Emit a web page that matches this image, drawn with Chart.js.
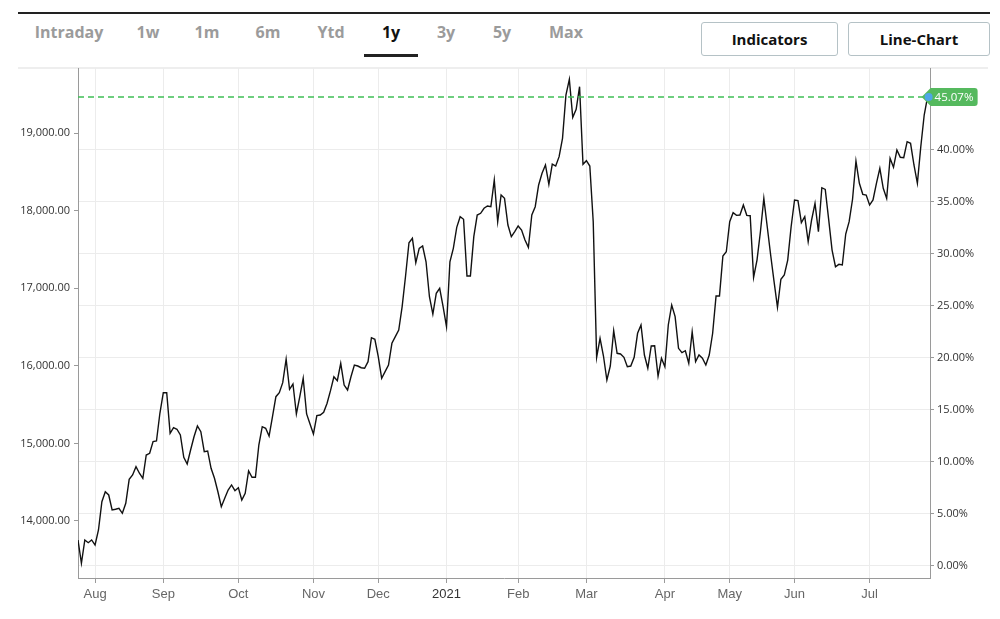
<!DOCTYPE html>
<html>
<head>
<meta charset="utf-8">
<script src="https://cdn.jsdelivr.net/npm/chart.js@4.4.0/dist/chart.umd.min.js"></script>
<style>
  body { margin: 0; background: #fff; }
  #wrap { position: relative; width: 1000px; height: 619px; overflow: hidden; }
  #priceChart { position: absolute; left: 0; top: 0; }
  .topline { position: absolute; left: 18px; top: 12px; width: 972px; height: 2px; background: #222; }
  .sep { position: absolute; left: 18px; top: 67px; width: 970px; height: 2px; background: #eeeeee; }
  .tab { position: absolute; top: 21px; font: 700 16px "Open Sans", sans-serif; color: #9b9b9b; transform: translateX(-50%); white-space: nowrap; }
  .tab.on { color: #111; }
  .uline { position: absolute; left: 364px; top: 54px; width: 54px; height: 3px; background: #222; }
  .btn { position: absolute; top: 22px; height: 34px; box-sizing: border-box; border: 1px solid #b5c2c6; border-radius: 3px;
         font: 700 15px "Open Sans", sans-serif; color: #111; text-align: center; line-height: 32px; }
</style>
</head>
<body>
<div id="wrap">
  <div class="topline"></div>
  <div class="tab" style="left:69px">Intraday</div>
  <div class="tab" style="left:148px">1w</div>
  <div class="tab" style="left:207px">1m</div>
  <div class="tab" style="left:268px">6m</div>
  <div class="tab" style="left:331px">Ytd</div>
  <div class="tab on" style="left:391px">1y</div>
  <div class="tab" style="left:446px">3y</div>
  <div class="tab" style="left:502px">5y</div>
  <div class="tab" style="left:566px">Max</div>
  <div class="uline"></div>
  <div class="btn" style="left:701px;width:137px">Indicators</div>
  <div class="btn" style="left:848px;width:142px">Line-Chart</div>
  <div class="sep"></div>
  <canvas id="priceChart" width="1000" height="619"></canvas>
</div>
<script>
// month ticks (position = trading day index)
const monthLabels = ["Aug", "Sep", "Oct", "Nov", "Dec", "2021", "Feb", "Mar", "Apr", "May", "Jun", "Jul"]
const monthIdx = [5, 25, 47, 69, 88, 108, 129, 149, 172, 191, 210, 232]

// daily closes
const prices = [
  13755, 13455, 13755, 13720, 13755, 13690, 13884, 14249, 14377, 14335,
  14142, 14151, 14164, 14099, 14228, 14537, 14593, 14700, 14615, 14550,
  14850, 14872, 15022, 15031, 15388, 15653, 15653, 15130, 15202, 15182,
  15108, 14821, 14734, 14915, 15086, 15224, 15151, 14893, 14902, 14679,
  14550, 14377, 14184, 14292, 14399, 14464, 14390, 14429, 14270, 14357,
  14644, 14563, 14563, 14979, 15215, 15194, 15095, 15344, 15602, 15653,
  15782, 16084, 15697, 15765, 15379, 15602, 15839, 15379, 15250, 15121,
  15357, 15366, 15401, 15517, 15679, 15859, 15808, 16032, 15752, 15688,
  15859, 16010, 15997, 15975, 15968, 16053, 16362, 16341, 16117, 15839,
  15924, 16010, 16290, 16375, 16461, 16762, 17157, 17586, 17643, 17329,
  17514, 17544, 17341, 16890, 16667, 16934, 16999, 16762, 16504, 17341,
  17514, 17785, 17921, 17888, 17157, 17157, 17664, 17943, 17965, 18030,
  18059, 18050, 18394, 17857, 18201, 18158, 17814, 17664, 17728, 17802,
  17750, 17621, 17527, 17943, 18050, 18330, 18481, 18588, 18339, 18600,
  18575, 18695, 18932, 19490, 19692, 19202, 19305, 19597, 18597, 18643,
  18575, 17857, 16109, 16354, 16126, 15817, 15997, 16452, 16161, 16152,
  16109, 15988, 15997, 16109, 16419, 16526, 16139, 15968, 16255, 16259,
  15868, 16097, 15988, 16526, 16783, 16633, 16225, 16169, 16194, 16032,
  16439, 16053, 16139, 16097, 16010, 16139, 16419, 16899, 16899, 17415,
  17470, 17857, 17973, 17939, 17943, 18072, 17939, 17934, 17140, 17363,
  17728, 18158, 17792, 17428, 17084, 16754, 17115, 17170, 17363, 17792,
  18137, 18128, 17844, 17921, 17599, 17879, 18094, 17728, 18295, 18274,
  17888, 17492, 17277, 17308, 17299, 17698, 17857, 18146, 18639, 18352,
  18210, 18201, 18072, 18137, 18352, 18545, 18287, 18158, 18674, 18558,
  18781, 18687, 18682, 18888, 18867, 18588, 18352, 18823, 19232, 19468
]

const priceTicks = [14000, 15000, 16000, 17000, 18000, 19000]
const pctTicks = [0, 5, 10, 15, 20, 25, 30, 35, 40]
const basePrice = 13420
const priceMin = 13265
const priceMax = 19838

const toPct = (p) => (p / basePrice - 1) * 100

const lastLabel = {
    id: "lastLabel",
    afterDatasetsDraw(chart) {
        const { ctx, chartArea, scales } = chart
        const i = prices.length - 1
        const x = scales.x.getPixelForValue(i)
        const y = Math.round(scales.y.getPixelForValue(prices[i]))
        ctx.save()
        // dashed level line
        ctx.strokeStyle = "#3fbf55"
        ctx.lineWidth = 1.3
        ctx.setLineDash([6, 4])
        ctx.beginPath()
        ctx.moveTo(chartArea.left, y)
        ctx.lineTo(x, y)
        ctx.stroke()
        ctx.setLineDash([])
        // green tag
        const x0 = x - 6, x1 = x + 3, x2 = x + 50, h = 9, r = 3
        ctx.fillStyle = "#55b95e"
        ctx.beginPath()
        ctx.moveTo(x0, y)
        ctx.lineTo(x1, y - h)
        ctx.lineTo(x2 - r, y - h)
        ctx.quadraticCurveTo(x2, y - h, x2, y - h + r)
        ctx.lineTo(x2, y + h - r)
        ctx.quadraticCurveTo(x2, y + h, x2 - r, y + h)
        ctx.lineTo(x1, y + h)
        ctx.closePath()
        ctx.fill()
        ctx.fillStyle = "#fff"
        ctx.font = "11.5px 'Open Sans'"
        ctx.textBaseline = "middle"
        ctx.fillText(toPct(prices[i]).toFixed(2) + "%", x + 7, y + 0.5)
        // end dot
        ctx.fillStyle = "#4ea6e6"
        ctx.beginPath()
        ctx.arc(x + 1, y, 4, 0, Math.PI * 2)
        ctx.fill()
        ctx.restore()
    }
}

const ctx = document.getElementById("priceChart").getContext("2d")
let myChart = new Chart(ctx, {
    type: "line",
    data: {
        datasets: [{
            data: prices.map((v, i) => ({ x: i, y: v })),
            borderColor: "#111",
            borderWidth: 1.4,
            pointRadius: 0,
            tension: 0,
            yAxisID: "y"
        }]
    },
    options: {
        responsive: false,
        animation: false,
        layout: { padding: { top: 68, left: 0, right: 0, bottom: 0 } },
        plugins: { legend: { display: false }, tooltip: { enabled: false } },
        scales: {
            x: {
                type: "linear",
                min: 0,
                max: 249.7,
                afterBuildTicks: (s) => { s.ticks = monthIdx.map((v) => ({ value: v })) },
                afterFit: (s) => { s.height = 41 },
                grid: { color: "#ececec", tickColor: "#9a9a9a", tickLength: 5 },
                border: { color: "#9a9a9a" },
                ticks: {
                    autoSkip: false,
                    maxRotation: 0,
                    padding: 4,
                    font: { family: "Liberation Sans", size: 13 },
                    color: (c) => (c.tick && c.tick.value === 108 ? "#333" : "#666"),
                    callback: (v) => monthLabels[monthIdx.indexOf(v)]
                }
            },
            y: {
                position: "left",
                min: priceMin,
                max: priceMax,
                afterBuildTicks: (s) => { s.ticks = priceTicks.map((v) => ({ value: v })) },
                afterFit: (s) => { s.width = 78 },
                grid: { drawOnChartArea: false, tickColor: "#9a9a9a", tickLength: 4 },
                border: { color: "#9a9a9a" },
                ticks: {
                    padding: 4,
                    color: "#333",
                    font: { family: "Open Sans", size: 11 },
                    callback: (v) => v.toLocaleString("en-US", { minimumFractionDigits: 2 })
                }
            },
            yPct: {
                position: "right",
                min: toPct(priceMin),
                max: toPct(priceMax),
                afterBuildTicks: (s) => { s.ticks = pctTicks.map((v) => ({ value: v })) },
                afterFit: (s) => { s.width = 70 },
                grid: { color: "#ececec", tickColor: "#9a9a9a", tickLength: 4 },
                border: { color: "#9a9a9a" },
                ticks: {
                    padding: 3,
                    color: "#333",
                    font: { family: "Open Sans", size: 11 },
                    callback: (v) => v.toFixed(2) + "%"
                }
            }
        }
    },
    plugins: [lastLabel]
})
</script>
</body>
</html>
